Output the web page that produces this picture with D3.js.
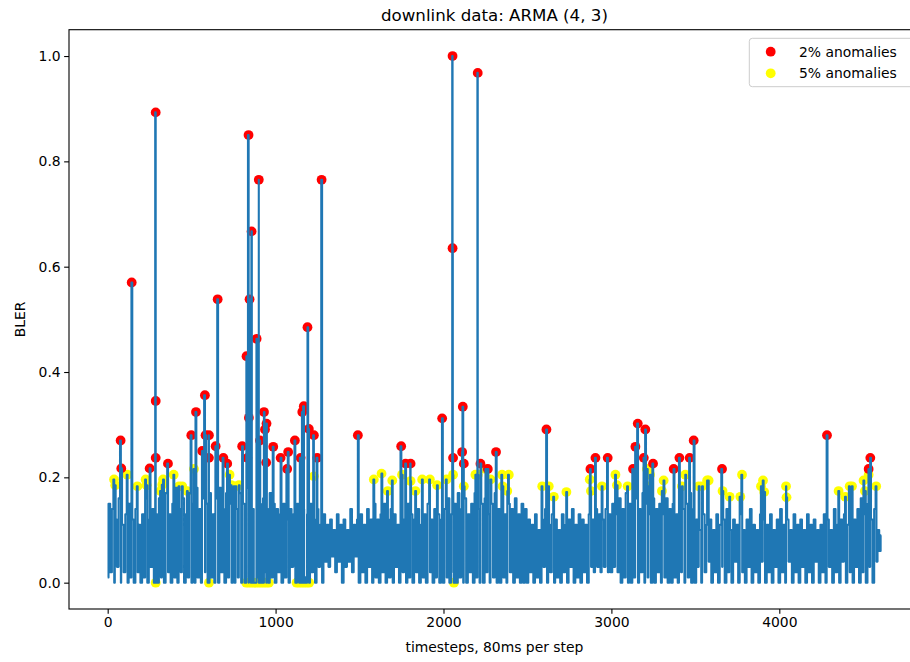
<!DOCTYPE html>
<html><head><meta charset="utf-8">
<script src="https://cdn.jsdelivr.net/npm/d3@7"></script>
<style>body{margin:0;background:#fff}svg{display:block}text{font-family:"DejaVu Sans",sans-serif;fill:#000}</style>
</head><body><svg id="c" width="910" height="662"></svg>
<script>
// ---- data ----
const titleText = "downlink data: ARMA (4, 3)";
const xLabel = "timesteps, 80ms per step";
const yLabel = "BLER";
const xTicks = [0, 1000, 2000, 3000, 4000];
const yTicks = [0.0, 0.2, 0.4, 0.6, 0.8, 1.0];
const nSteps = 4607;          // last timestep
const baseStep = 10;          // sampling of the base series below
const baseBler = [
 // t 0-290
 0.01,0.15,0.02,0.14,0.00,0.12,0.03,0.16,0.00,0.11,0.02,0.13,0.00,0.15,0.01,0.12,0.00,0.14,0.02,0.11,0.00,0.13,0.01,0.16,0.00,0.12,0.03,0.14,0.00,0.13,
 // t 300-990
 0.00,0.16,0.01,0.14,0.00,0.17,0.02,0.13,0.00,0.15,
 0.01,0.18,0.00,0.14,0.02,0.16,0.00,0.13,0.01,0.17,
 0.00,0.15,0.00,0.18,0.01,0.14,0.00,0.16,0.02,0.15,
 0.00,0.17,0.01,0.13,0.00,0.16,0.00,0.18,0.02,0.14,
 0.00,0.17,0.01,0.15,0.00,0.16,0.00,0.14,0.01,0.17,
 0.00,0.15,0.00,0.18,0.01,0.16,0.00,0.14,0.00,0.17,
 0.01,0.15,0.00,0.16,0.02,0.14,0.00,0.17,0.01,0.15,
 // t 1000-1290
 0.00,0.14,0.02,0.13,0.00,0.15,0.01,0.12,0.00,0.14,
 0.03,0.13,0.00,0.15,0.02,0.12,0.00,0.14,0.01,0.13,
 0.00,0.15,0.02,0.12,0.00,0.14,0.03,0.11,0.00,0.13,
 // t 1300-1490
 0.04,0.11,0.03,0.12,0.05,0.10,0.02,0.13,0.04,0.11,
 0.00,0.12,0.03,0.10,0.04,0.14,0.02,0.11,0.05,0.12,
 // t 1500-1990
 0.00,0.13,0.02,0.11,0.00,0.14,0.03,0.12,0.00,0.15,
 0.01,0.12,0.00,0.13,0.02,0.15,0.00,0.12,0.01,0.14,
 0.00,0.13,0.03,0.11,0.00,0.14,0.02,0.12,0.00,0.15,
 0.01,0.13,0.00,0.12,0.02,0.14,0.00,0.11,0.01,0.13,
 0.00,0.15,0.02,0.12,0.00,0.14,0.01,0.13,0.00,0.12,
 // t 2000-2490
 0.00,0.14,0.01,0.16,0.00,0.13,0.02,0.15,0.00,0.17,
 0.01,0.14,0.00,0.16,0.00,0.13,0.02,0.15,0.00,0.17,
 0.01,0.14,0.00,0.15,0.00,0.16,0.02,0.13,0.00,0.15,
 0.01,0.17,0.00,0.14,0.00,0.16,0.01,0.13,0.00,0.15,
 0.02,0.14,0.00,0.16,0.01,0.13,0.00,0.15,0.00,0.14,
 // t 2500-2990
 0.00,0.12,0.02,0.11,0.00,0.13,0.01,0.10,0.00,0.12,
 0.03,0.14,0.00,0.11,0.02,0.13,0.00,0.12,0.01,0.10,
 0.00,0.13,0.02,0.11,0.00,0.12,0.03,0.14,0.00,0.11,
 0.01,0.13,0.00,0.12,0.02,0.11,0.00,0.13,0.03,0.12,
 0.02,0.14,0.03,0.13,0.02,0.12,0.03,0.14,0.02,0.13,
 // t 3000-3490
 0.02,0.15,0.03,0.13,0.02,0.16,0.00,0.14,0.01,0.17,
 0.00,0.15,0.00,0.13,0.01,0.16,0.00,0.14,0.02,0.17,
 0.00,0.15,0.01,0.13,0.00,0.16,0.00,0.14,0.02,0.15,
 0.00,0.13,0.01,0.16,0.00,0.14,0.00,0.15,0.01,0.13,
 0.00,0.16,0.02,0.14,0.00,0.15,0.01,0.17,0.00,0.14,
 // t 3500-4600
 0.00,0.12,0.03,0.10,0.00,0.13,0.02,0.11,0.04,0.12,
 0.00,0.10,0.02,0.13,0.00,0.11,0.03,0.12,0.00,0.14,
 0.02,0.10,0.00,0.12,0.04,0.11,0.00,0.13,0.02,0.10,
 0.00,0.12,0.03,0.14,0.00,0.11,0.02,0.10,0.00,0.13,
 0.04,0.12,0.00,0.11,0.02,0.13,0.00,0.10,0.03,0.12,
 0.00,0.14,0.02,0.11,0.00,0.12,0.04,0.10,0.00,0.13,
 0.02,0.11,0.00,0.12,0.03,0.10,0.00,0.13,0.02,0.11,
 0.00,0.12,0.04,0.10,0.00,0.11,0.02,0.13,0.00,0.12,
 0.03,0.10,0.00,0.14,0.02,0.11,0.00,0.12,0.04,0.13,
 0.00,0.11,0.02,0.15,0.00,0.12,0.03,0.14,0.00,0.16,
 0.02,0.13,0.00,0.15,0.03,0.12,0.00,0.14,0.04,0.10,
 0.06
];
const lastValue = [nSteps, 0.09];

// 2% anomalies [timestep, BLER]
const anomalies2 = [
 [77,0.270],[81,0.217],[143,0.570],[250,0.217],[286,0.893],[286,0.345],[286,0.237],[359,0.226],
 [498,0.280],[526,0.324],[563,0.250],[579,0.356],[583,0.280],[603,0.280],[603,0.237],[643,0.259],
 [655,0.538],[689,0.237],[712,0.226],[801,0.259],[827,0.430],[832,0.237],[839,0.850],[841,0.313],
 [845,0.538],[857,0.667],[887,0.463],[900,0.765],[907,0.270],[931,0.324],[937,0.291],[944,0.228],
 [946,0.302],[986,0.258],[1030,0.237],[1069,0.216],[1075,0.248],[1115,0.270],[1149,0.237],
 [1159,0.324],[1168,0.335],[1190,0.485],[1198,0.292],[1228,0.280],[1248,0.237],[1274,0.765],
 [1490,0.280],[1748,0.259],[1774,0.226],[1804,0.226],[1992,0.312],[2054,1.000],[2054,0.635],
 [2057,0.237],[2111,0.248],[2115,0.334],[2121,0.226],[2204,0.968],[2220,0.226],[2264,0.216],
 [2313,0.248],[2613,0.291],[2875,0.216],[2905,0.237],[2978,0.237],[3129,0.216],[3143,0.258],
 [3157,0.302],[3193,0.237],[3202,0.291],[3248,0.226],[3371,0.216],[3405,0.237],[3466,0.237],
 [3490,0.270],[3659,0.216],[4284,0.280],[4532,0.216],[4542,0.237]
];
// 5% anomalies [timestep, BLER]
const anomalies5 = [
 [38,0.196],[45,0.185],[117,0.205],[177,0.183],[226,0.196],[232,0.185],[286,0.000],[315,0.174],
 [325,0.186],[330,0.196],[393,0.205],[425,0.183],[444,0.183],[474,0.174],[514,0.216],[603,0.000],
 [726,0.205],[736,0.185],[751,0.183],[762,0.183],[782,0.185],
 [825,0.000],[840,0.000],[855,0.000],[870,0.000],[885,0.000],[900,0.000],[915,0.000],[930,0.000],[945,0.000],[960,0.000],
 [1125,0.000],[1140,0.000],[1155,0.000],[1170,0.000],[1185,0.000],[1200,0.000],
 [1228,0.202],[1585,0.196],[1631,0.207],[1668,0.174],[1695,0.194],[1753,0.205],[1804,0.193],
 [1833,0.174],[1873,0.196],[1919,0.196],[1962,0.185],[2018,0.196],[2057,0.205],[2062,0.000],
 [2121,0.183],[2190,0.205],[2204,0.205],[2250,0.216],[2280,0.196],[2349,0.205],[2352,0.183],
 [2380,0.174],[2389,0.205],[2588,0.183],[2627,0.183],[2657,0.163],[2732,0.172],[2871,0.196],
 [2878,0.174],[2944,0.183],[3024,0.205],[3033,0.185],[3097,0.183],[3212,0.216],[3220,0.183],
 [3230,0.205],[3301,0.174],[3311,0.194],[3420,0.183],[3440,0.205],[3520,0.183],[3540,0.183],
 [3570,0.194],[3579,0.194],[3662,0.174],[3704,0.163],[3768,0.163],[3778,0.205],[3891,0.183],
 [3903,0.194],[3910,0.172],[4040,0.183],[4043,0.162],[4353,0.174],[4393,0.163],[4419,0.183],
 [4433,0.183],[4502,0.194],[4510,0.174],[4532,0.205],[4577,0.183]
];
const legendLabels = ["2% anomalies", "5% anomalies"];
const colors = {line:"#1f77b4", a2:"#ff0000", a5:"#ffff00"};

// ---- layout ----
const svg = d3.select("#c");
const L = 69, R = 919.9, T = 29.7, B = 609;
const x = d3.scaleLinear().domain([-0.05*nSteps, 1.05*nSteps]).range([L, R]);
const y = d3.scaleLinear().domain([-0.05, 1.05]).range([B, T]);
const fs = 13.9;

// full series: base samples + anomalies merged in timestep order
let series = baseBler.map((v,i)=>({t:i*baseStep, v, o:0}));
series.push({t:lastValue[0], v:lastValue[1], o:0});
anomalies2.forEach((d,i)=>series.push({t:d[0], v:d[1], o:1+i*0.001}));
anomalies5.forEach((d,i)=>series.push({t:d[0], v:d[1], o:2+i*0.001}));
series.sort((a,b)=>a.t-b.t || a.o-b.o);

svg.append("clipPath").attr("id","pc").append("rect")
  .attr("x",L).attr("y",T).attr("width",R-L).attr("height",B-T);
const plot = svg.append("g").attr("clip-path","url(#pc)");

const rPt = 4.9;
plot.selectAll("circle.a5").data(anomalies5).join("circle").attr("class","a5")
  .attr("cx",d=>x(d[0])).attr("cy",d=>y(d[1])).attr("r",rPt).attr("fill",colors.a5);
plot.selectAll("circle.a2").data(anomalies2).join("circle").attr("class","a2")
  .attr("cx",d=>x(d[0])).attr("cy",d=>y(d[1])).attr("r",rPt).attr("fill",colors.a2);

plot.append("path").datum(series)
  .attr("d", d3.line().curve(d3.curveStep).x(d=>x(d.t)).y(d=>y(d.v)))
  .attr("fill","none").attr("stroke",colors.line).attr("stroke-width",2.08)
  .attr("stroke-linejoin","round").attr("stroke-linecap","butt");

// axes
const gx = svg.append("g").attr("transform",`translate(0,${B})`)
  .call(d3.axisBottom(x).tickValues(xTicks).tickFormat(d3.format("d")).tickSize(4.86).tickPadding(3.5).tickSizeOuter(0));
const gy = svg.append("g").attr("transform",`translate(${L},0)`)
  .call(d3.axisLeft(y).tickValues(yTicks).tickFormat(d3.format(".1f")).tickSize(4.86).tickPadding(3.5).tickSizeOuter(0));
[gx,gy].forEach(g=>{
  g.select(".domain").remove();
  g.selectAll(".tick line").attr("stroke","#000").attr("stroke-width",1.1);
  g.selectAll(".tick text").attr("font-size",fs).attr("font-family","DejaVu Sans").attr("fill","#000");
});

// spines (right one falls outside the picture)
svg.append("rect").attr("x",L).attr("y",T).attr("width",R-L).attr("height",B-T)
  .attr("fill","none").attr("stroke","#000").attr("stroke-width",1.1);

// title & labels
svg.append("text").attr("x",(L+R)/2).attr("y",20.5).attr("text-anchor","middle")
  .attr("font-size",16.67).text(titleText);
svg.append("text").attr("x",(L+R)/2).attr("y",652).attr("text-anchor","middle")
  .attr("font-size",fs).text(xLabel);
svg.append("text").attr("transform",`translate(25,${(T+B)/2}) rotate(-90)`).attr("text-anchor","middle")
  .attr("font-size",fs).text(yLabel);

// legend
const lg = svg.append("g");
lg.append("rect").attr("x",749.3).attr("y",38.3).attr("width",190).attr("height",48.4).attr("rx",3)
  .attr("fill","#fff").attr("fill-opacity",0.8).attr("stroke","#cccccc").attr("stroke-width",1);
legendLabels.forEach((lab,i)=>{
  const cy = 51.7 + i*21.6;
  lg.append("circle").attr("cx",770.7).attr("cy",cy).attr("r",rPt).attr("fill",i===0?colors.a2:colors.a5);
  lg.append("text").attr("x",799).attr("y",cy+5).attr("font-size",fs).text(lab);
});
</script></body></html>
